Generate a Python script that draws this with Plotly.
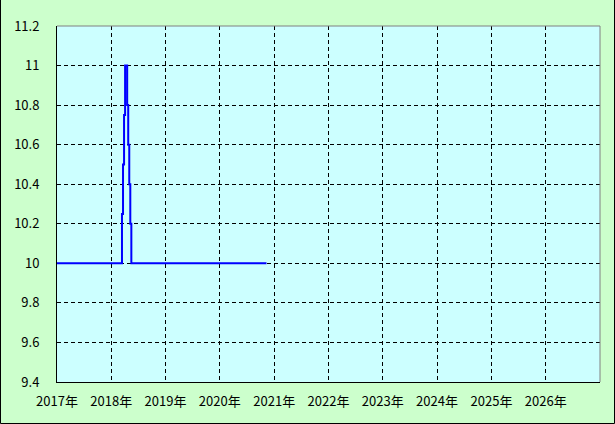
import plotly.graph_objects as go

dates = ["2017-01-01", "2018-03-14", "2018-03-21", "2018-03-28", "2018-04-04",
         "2018-04-18", "2018-04-25", "2018-05-02", "2018-05-09", "2018-05-16",
         "2020-11-10"]
values = [10, 10.25, 10.5, 10.75, 11, 10.8, 10.6, 10.4, 10.2, 10, 10]

year_ticks = [f"{y}-01-01" for y in range(2017, 2027)]
year_labels = [f"{y}年" for y in range(2017, 2027)]
y_ticks = [9.4, 9.6, 9.8, 10, 10.2, 10.4, 10.6, 10.8, 11, 11.2]
y_labels = ["9.4", "9.6", "9.8", "10", "10.2", "10.4", "10.6", "10.8", "11", "11.2"]

W, H = 615, 424
L, R, T, B = 57, 15, 26, 42
pw, ph = W - L - R, H - T - B

fig = go.Figure()
fig.add_trace(go.Scatter(x=dates, y=values, mode="lines", line_shape="hv",
                         line=dict(color="#0000FF", width=2), showlegend=False,
                         hoverinfo="skip"))

font = dict(family="Noto Sans CJK JP, DejaVu Sans", size=13, color="#000000")
fig.update_layout(
    width=W, height=H,
    margin=dict(l=L, r=R, t=T, b=B),
    paper_bgcolor="#CCFFCC", plot_bgcolor="#CCFFFF",
    font=font,
    xaxis=dict(range=["2017-01-01", "2027-01-01"], tickvals=year_ticks, ticktext=year_labels,
               showgrid=True, gridcolor="#000000", griddash="4px,3px", gridwidth=1,
               showline=True, linecolor="#000000", linewidth=1, ticks="", zeroline=False,
               ticklabelstandoff=7, fixedrange=True),
    yaxis=dict(range=[9.4, 11.2], tickvals=y_ticks, ticktext=y_labels,
               showgrid=True, gridcolor="#000000", griddash="4px,3px", gridwidth=1,
               showline=True, linecolor="#000000", linewidth=1, ticks="", zeroline=False,
               ticklabelstandoff=14, fixedrange=True),
    shapes=[
        dict(type="line", xref="paper", yref="paper", x0=0, x1=1, y0=1, y1=1,
             line=dict(color="#808080", width=1)),
        dict(type="line", xref="paper", yref="paper", x0=1, x1=1, y0=0, y1=1,
             line=dict(color="#808080", width=1)),
        dict(type="rect", xref="paper", yref="paper",
             x0=-(L - 0.5) / pw, x1=(W - L - 0.5) / pw,
             y0=-(B - 0.5) / ph, y1=(H - T - 0.5) / ph,
             line=dict(color="#000000", width=1), layer="above"),
    ],
)

fig.write_html("out.html", config={"displayModeBar": False},
               post_script="document.body.style.margin='0';document.body.style.overflow='hidden';")
